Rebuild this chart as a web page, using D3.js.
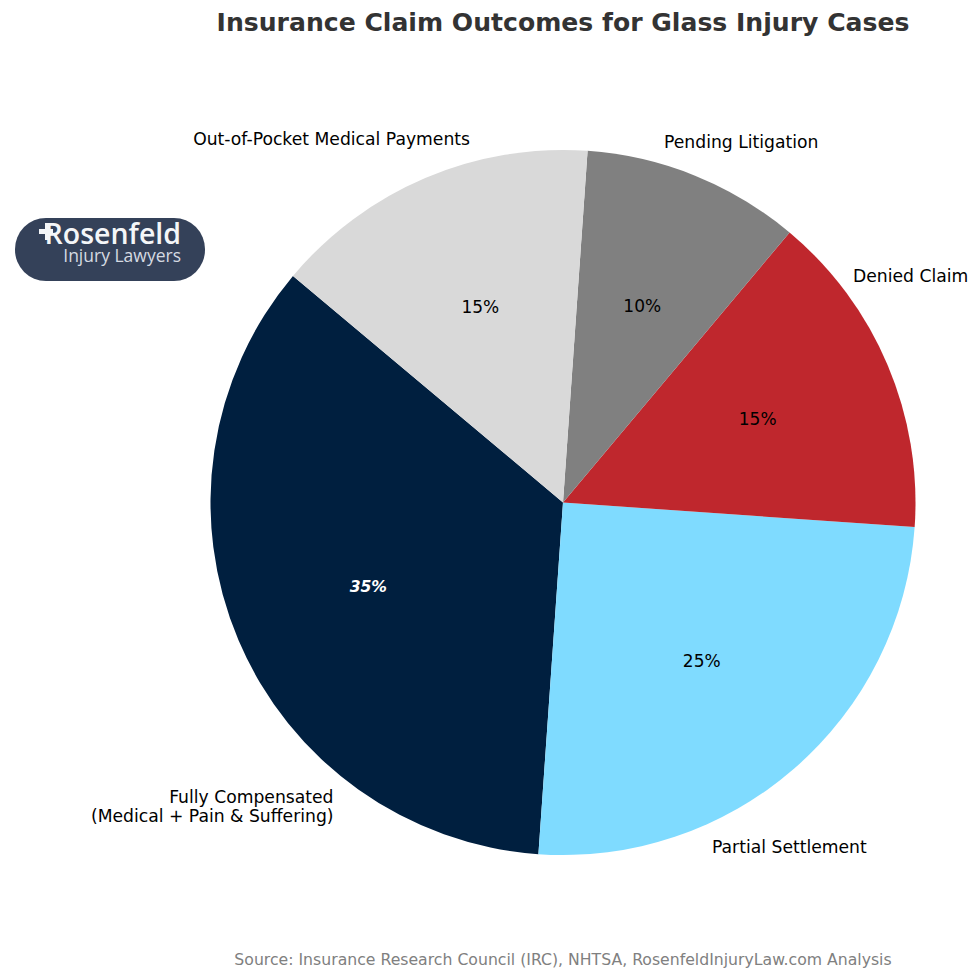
<!DOCTYPE html>
<html>
<head>
<meta charset="utf-8">
<script src="https://cdn.jsdelivr.net/npm/d3@7"></script>
<style>
  html, body { margin: 0; padding: 0; background: #fff; }
  svg { display: block; }
  text { font-family: "DejaVu Sans", sans-serif; }
</style>
</head>
<body>
<svg id="chart" width="980" height="980"></svg>
<script>
// values, going counter-clockwise from the navy slice
var categories = ["Fully Compensated\n(Medical + Pain & Suffering)", "Partial Settlement", "Denied Claim", "Pending Litigation", "Out-of-Pocket Medical Payments"];
var shares = [35, 25, 15, 10, 15];
var sliceColors = ["#001f3f", "#7fdbff", "#bf272d", "#808080", "#d9d9d9"];

var svg = d3.select("#chart");
var cx = 563, cy = 502.5, radius = 352.5;
var rad = Math.PI / 180;

// outer labels do not sit at a fixed distance in the original
var labelPlace = [
  { x: 333.5, y: 797, anchor: "end" },
  { x: 712, y: 847, anchor: "start" },
  { x: 853, y: 276, anchor: "start" },
  { x: 664, y: 142, anchor: "start" },
  { x: 470, y: 139, anchor: "end" }
];

var pie = d3.pie().sort(null).startAngle(-50 * rad).endAngle(-410 * rad);
var arc = d3.arc().innerRadius(0).outerRadius(radius);
var pctArc = d3.arc().innerRadius(radius * 0.6).outerRadius(radius * 0.6);

svg.append("text")
  .attr("x", 563).attr("y", 31)
  .attr("text-anchor", "middle")
  .attr("font-size", 25.1).attr("font-weight", "bold")
  .attr("fill", "#333333")
  .text("Insurance Claim Outcomes for Glass Injury Cases");

var g = svg.append("g").attr("transform", "translate(" + cx + "," + cy + ")");
var slices = pie(shares);

g.selectAll("path")
  .data(slices)
  .enter().append("path")
  .attr("d", arc)
  .attr("fill", (d, i) => sliceColors[i]);

g.selectAll("text.pct")
  .data(slices)
  .enter().append("text")
  .attr("class", "pct")
  .attr("transform", d => "translate(" + pctArc.centroid(d) + ")")
  .attr("text-anchor", "middle")
  .attr("dy", (d, i) => i == 0 ? "0.42em" : "0.3em")
  .attr("font-size", (d, i) => i == 0 ? 15.6 : 17)
  .attr("fill", (d, i) => i == 0 ? "#ffffff" : "#000000")
  .attr("font-weight", (d, i) => i == 0 ? "bold" : "normal")
  .attr("font-style", (d, i) => i == 0 ? "italic" : "normal")
  .text(d => d.data + "%");

categories.forEach((name, i) => {
  var p = labelPlace[i];
  var t = svg.append("text")
    .attr("text-anchor", p.anchor)
    .attr("font-size", 17.2)
    .attr("fill", "#000000");
  name.split("\n").forEach((line, j) => {
    t.append("tspan")
      .attr("x", p.x)
      .attr("y", p.y + j * 19 + 6)
      .text(line);
  });
});

svg.append("text")
  .attr("x", 563).attr("y", 965)
  .attr("text-anchor", "middle")
  .attr("font-size", 15.7)
  .attr("fill", "#808080")
  .text("Source: Insurance Research Council (IRC), NHTSA, RosenfeldInjuryLaw.com Analysis");

// logo badge
var logo = svg.append("g");
logo.append("rect")
  .attr("x", 15).attr("y", 218)
  .attr("width", 190).attr("height", 63)
  .attr("rx", 31).attr("ry", 31)
  .attr("fill", "#344159");
logo.append("text")
  .attr("x", 181).attr("y", 244)
  .attr("text-anchor", "end")
  .attr("font-size", 28.5)
  .attr("font-weight", 600)
  .attr("fill", "#f4f6f8")
  .style("font-family", "'Open Sans', sans-serif")
  .text("Rosenfeld");
logo.append("text")
  .attr("x", 181).attr("y", 262)
  .attr("text-anchor", "end")
  .attr("font-size", 17.5)
  .attr("fill", "#d5dae2")
  .style("font-family", "'Open Sans', sans-serif")
  .text("Injury Lawyers");
logo.append("path")
  .attr("d", "M39 229h6v-6h5v6h3v5h-3v6h-5v-6h-6z")
  .attr("fill", "#f4f6f8");
</script>
</body>
</html>
